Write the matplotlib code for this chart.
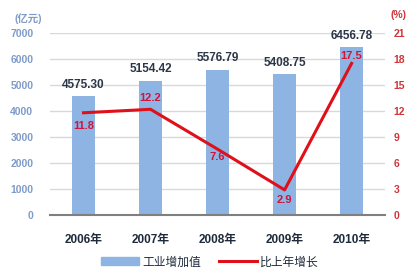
import matplotlib
matplotlib.use('Agg')
import matplotlib.pyplot as plt
from matplotlib.patches import Patch
from matplotlib.lines import Line2D

plt.rcParams['font.family'] = ['Liberation Sans', 'Noto Sans CJK SC', 'DejaVu Sans']

years = ['2006年', '2007年', '2008年', '2009年', '2010年']
value_added = [4575.30, 5154.42, 5576.79, 5408.75, 6456.78]
growth = [11.8, 12.2, 7.6, 2.9, 17.5]
growth_offsets = [-13, 11, -8, -10, 7]   # label offset in px, minus = below

bar_color = '#8db4e2'
line_color = '#e0101a'

fig = plt.figure(figsize=(4.2, 2.8), dpi=100)
ax = fig.add_axes([0.119, 0.232, 0.798, 0.650])
x = range(len(years))

ax.bar(x, value_added, width=0.35, color=bar_color, zorder=2)
ax.set_xlim(-0.5, 4.5)
ax.set_ylim(0, 7000)
ax.set_yticks(range(0, 7001, 1000))
ax.yaxis.grid(True, color='#d9d9d9', linewidth=1, zorder=0)
ax.set_axisbelow(True)
for s in ['top', 'right', 'left']:
    ax.spines[s].set_visible(False)
ax.spines['bottom'].set_color('#7f7f7f')
ax.spines['bottom'].set_linewidth(1.5)
ax.tick_params(axis='y', length=0, labelcolor='#7f9bc8', labelsize=7.5, pad=12)
ax.tick_params(axis='x', length=0, labelsize=8.5, pad=14, labelcolor='#1f2a3c')
ax.set_xticks(list(x))
ax.set_xticklabels(years, fontweight='bold')
for lab in ax.get_yticklabels():
    lab.set_fontweight('bold')

for i, v in enumerate(value_added):
    ax.annotate('%.2f' % v, (i, v), xytext=(0, 4), textcoords='offset points',
                ha='center', va='bottom', fontsize=8.5, color='#2b3648', fontweight='bold')

ax2 = ax.twinx()
ax2.set_ylim(0, 21)
ax2.set_yticks(range(0, 22, 3))
for s in ['top', 'right', 'left', 'bottom']:
    ax2.spines[s].set_visible(False)
ax2.tick_params(axis='y', length=0, labelcolor='#d0343c', labelsize=7.5, pad=6)
for lab in ax2.get_yticklabels():
    lab.set_fontweight('bold')
ax2.plot(x, growth, color=line_color, linewidth=2.2, zorder=3)
for i, g in enumerate(growth):
    off = growth_offsets[i]
    ax2.annotate('%.1f' % g, (i, g), xytext=(0, off * 0.72), textcoords='offset points',
                 ha='center', va='center', fontsize=8, color='#d0143c', fontweight='bold')

fig.text(0.068, 0.935, '(亿元)', fontsize=7.5, color='#7f9bc8', ha='center', va='center',
         fontweight='bold')
fig.text(0.948, 0.945, '(%)', fontsize=7.5, color='#d0343c', ha='center', va='center',
         fontweight='bold')

handles = [Patch(color=bar_color), Line2D([0], [0], color=line_color, linewidth=2.2)]
leg = fig.legend(handles, ['工业增加值', '比上年增长'], loc='center', bbox_to_anchor=(0.5, 0.063),
                 ncol=2, frameon=False, fontsize=8.5, handlelength=3.2, handleheight=0.6,
                 columnspacing=1.5, handletextpad=0.3)
for t in leg.get_texts():
    t.set_color('#1f2a3c')

fig.savefig('out.png', dpi=100)
